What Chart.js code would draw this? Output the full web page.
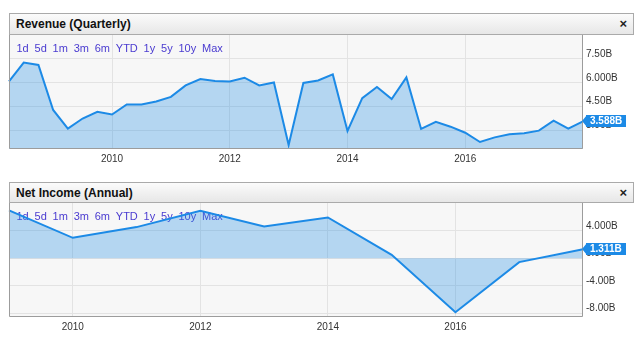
<!DOCTYPE html>
<html>
<head>
<meta charset="utf-8">
<script src="https://cdn.jsdelivr.net/npm/chart.js@4.4.0/dist/chart.umd.min.js"></script>
<style>
  html, body { margin: 0; padding: 0; background: #fff; }
  body { width: 640px; height: 339px; position: relative; overflow: hidden; font-family: Arial, "Liberation Sans", sans-serif; }
  .panel { position: absolute; left: 0; width: 640px; }
  .panel canvas { position: absolute; left: 0; top: 0; }
  .head { position: absolute; left: 9px; width: 623px; border: 1px solid #aaa; background: linear-gradient(#fbfbfb, #e7e7e7); z-index: 2; }
  .head .title { position: absolute; left: 6px; top: 3px; font-weight: bold; font-size: 12px; line-height: 14px; color: #111; }
  .head .close { position: absolute; right: 6px; top: 2px; font-weight: bold; font-size: 13px; line-height: 15px; color: #222; }
</style>
</head>
<body>
<div class="head" style="top:13px;height:20px"><span class="title">Revenue (Quarterly)</span><span class="close">×</span></div>
<div class="panel" style="top:0;height:170px"><canvas id="revenue" width="640" height="170"></canvas></div>
<div class="head" style="top:182px;height:19px"><span class="title">Net Income (Annual)</span><span class="close">×</span></div>
<div class="panel" style="top:170px;height:169px"><canvas id="income" width="640" height="169"></canvas></div>
<script>
// quarterly revenue, billions
const quarters = ['2008-04','2008-07','2008-10','2009-01','2009-04','2009-07','2009-10',
  '2010-01','2010-04','2010-07','2010-10','2011-01','2011-04','2011-07','2011-10',
  '2012-01','2012-04','2012-07','2012-10','2013-01','2013-04','2013-07','2013-10',
  '2014-01','2014-04','2014-07','2014-10','2015-01','2015-04','2015-07','2015-10',
  '2016-01','2016-04','2016-07','2016-10','2017-01','2017-04','2017-07','2017-10','2018-01'];
const revenue = [6.09, 7.27, 7.12, 4.30, 3.13, 3.76, 4.18, 4.01, 4.64, 4.64,
  4.83, 5.12, 5.84, 6.24, 6.11, 6.09, 6.32, 5.84, 6.02, 2.10,
  5.99, 6.15, 6.53, 2.98, 5.04, 5.74, 4.98, 6.34, 3.11, 3.55,
  3.25, 2.87, 2.29, 2.58, 2.77, 2.84, 3.00, 3.63, 3.13, 3.588];
const revenueTicks = [3, 4.5, 6, 7.5];
const revenueTickLabels = ['3.00B', '4.50B', '6.000B', '7.50B'];

// annual net income, billions
const years = ['2009','2010','2011','2012','2013','2014','2015','2016','2017','2018'];
const netIncome = [6.98, 2.99, 4.55, 6.93, 4.64, 5.96, 0.51, -7.85, -0.55, 1.311];
const incomeTicks = [-8, -4, 0, 4];
const incomeTickLabels = ['-8.00B', '-4.00B', '0.00B', '4.000B'];

const yearTicks = ['2010', '2012', '2014', '2016'];
const rangeButtons = ['1d','5d','1m','3m','6m','YTD','1y','5y','10y','Max'];

const lineColor = '#1c8ae6';
const fillColor = 'rgba(28,138,230,0.3)';
const gridColor = '#e3e3e3';

const panelPlugin = {
  id: 'panel',
  beforeDraw(chart) {
    const {ctx, chartArea: a} = chart;
    ctx.save();
    ctx.fillStyle = '#f7f7f7';
    ctx.fillRect(a.left, a.top, a.right - a.left, a.bottom - a.top);
    ctx.restore();
  },
  beforeDatasetsDraw(chart) {
    const {ctx, chartArea: a} = chart;
    ctx.save();
    ctx.font = '11px Arial, "Liberation Sans", sans-serif';
    ctx.fillStyle = '#4a3bd0';
    ctx.textBaseline = 'middle';
    let x = a.left + 7.5;
    rangeButtons.forEach(t => {
      ctx.fillText(t, x, a.top + 13.5);
      x += ctx.measureText(t).width + 5.8;
    });
    ctx.restore();
  },
  afterDraw(chart) {
    const {ctx, chartArea: a} = chart;
    ctx.save();
    // frame
    ctx.strokeStyle = '#9c9c9c';
    ctx.lineWidth = 1;
    ctx.beginPath();
    ctx.moveTo(a.left + 0.5, a.top);
    ctx.lineTo(a.left + 0.5, a.bottom - 0.5);
    ctx.lineTo(a.right - 0.5, a.bottom - 0.5);
    ctx.lineTo(a.right - 0.5, a.top);
    ctx.stroke();
    // last value callout
    const data = chart.data.datasets[0].data;
    const v = data[data.length - 1];
    const y = Math.round(chart.scales.y.getPixelForValue(v));
    const x0 = a.right + 3;
    ctx.fillStyle = lineColor;
    ctx.beginPath();
    ctx.moveTo(a.right - 1, y);
    ctx.lineTo(x0 + 1, y - 6);
    ctx.lineTo(x0 + 1, y + 6);
    ctx.closePath();
    ctx.fill();
    ctx.fillRect(x0, y - 6, 40, 12);
    ctx.fillStyle = '#fff';
    ctx.font = 'bold 10px Arial, "Liberation Sans", sans-serif';
    ctx.textBaseline = 'middle';
    ctx.fillText(v.toFixed(3) + 'B', x0 + 4, y + 0.5);
    ctx.restore();
  }
};

function makeChart(id, labels, values, yMin, yMax, yTicks, yTickLabels, fill, pad) {
  const tickIdx = labels.map((l, i) => yearTicks.includes(l.slice(0, 4)) && (l.length === 4 || l.endsWith('-01')) ? i : -1).filter(i => i >= 0);
  return new Chart(document.getElementById(id), {
    type: 'line',
    data: {
      labels: labels,
      datasets: [{
        data: values,
        borderColor: lineColor,
        backgroundColor: fillColor,
        borderWidth: 2,
        pointRadius: 0,
        tension: 0,
        fill: fill
      }]
    },
    options: {
      responsive: false,
      animation: false,
      devicePixelRatio: 1,
      layout: { padding: pad },
      plugins: { legend: { display: false }, tooltip: { enabled: false } },
      scales: {
        x: {
          type: 'category',
          offset: false,
          afterBuildTicks: s => { s.ticks = tickIdx.map(i => ({ value: i })); },
          afterFit: s => { s.height = 16; },
          grid: { color: gridColor, drawTicks: false },
          border: { display: false },
          ticks: {
            autoSkip: false,
            maxRotation: 0,
            padding: 4,
            color: '#333',
            font: { family: 'Arial', size: 10 },
            callback: function (value) { return this.getLabelForValue(value).slice(0, 4); }
          }
        },
        y: {
          position: 'right',
          min: yMin,
          max: yMax,
          afterBuildTicks: s => { s.ticks = yTicks.map(v => ({ value: v })); },
          afterFit: s => { s.width = 57; },
          grid: { color: gridColor, drawTicks: false },
          border: { display: false },
          ticks: {
            padding: 3,
            labelOffset: -5,
            color: '#333',
            font: { family: 'Arial', size: 10 },
            callback: v => yTickLabels[yTicks.indexOf(v)]
          }
        }
      }
    },
    plugins: [panelPlugin]
  });
}

makeChart('revenue', quarters, revenue, 1.85, 9.0, revenueTicks, revenueTickLabels, 'start',
  { top: 35, bottom: 5, left: 9, right: 0 });
makeChart('income', years, netIncome, -8.54, 8.06, incomeTicks, incomeTickLabels, 'origin',
  { top: 33, bottom: 6, left: 9, right: 0 });
</script>
</body>
</html>
